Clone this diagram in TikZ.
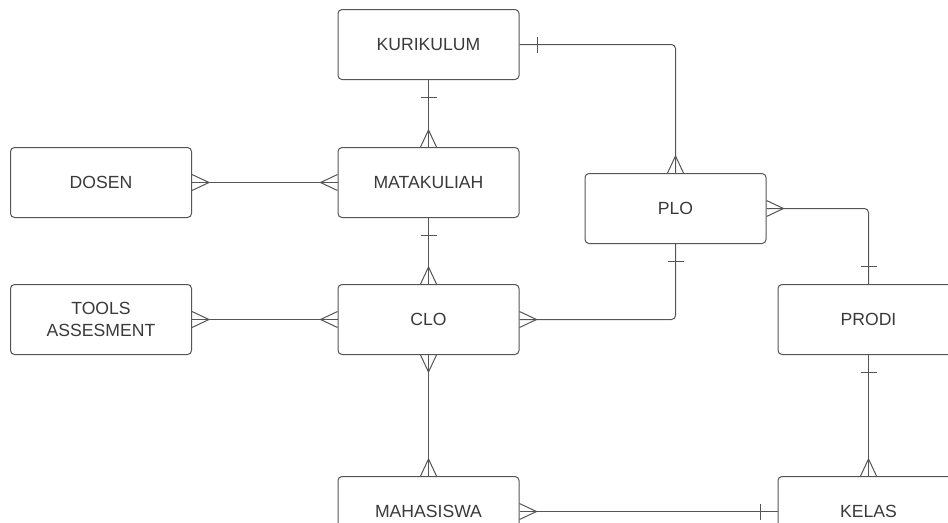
\documentclass[tikz,border=0pt]{standalone}
\usepackage{fontspec}
\setmainfont{Liberation Sans}
\begin{document}
\begin{tikzpicture}[x=0.75pt,y=-0.75pt]
\definecolor{linegray}{HTML}{555555}
\definecolor{textgray}{HTML}{3A3A3A}
\tikzset{
  entity/.style={draw=linegray, line width=0.75pt, rounded corners=3pt, fill=white,
    minimum width=135.75pt, minimum height=52.5pt, inner sep=0pt,
    text=textgray, font=\fontsize{13.2}{16.5}\selectfont, align=center},
  conn/.style={draw=linegray, line width=0.75pt},
  elbow/.style={conn, rounded corners=3pt},
  pics/manyend/.style={code={\draw[conn] (0,8) -- (17,0) -- (0,-8);}},
  pics/oneend/.style={code={\draw[conn] (17.5,8) -- (17.5,-8);}}
}
\clip (0,0) rectangle (948,522);
\fill[white] (0,0) rectangle (948,522);

\node[entity] (kur) at (428.5,44.5) {KURIKULUM};
\node[entity] (mk) at (428.5,182.5) {MATAKULIAH};
\node[entity] (dosen) at (101,182.5) {DOSEN};
\node[entity] (plo) at (675.5,208.5) {PLO};
\node[entity] (tools) at (101,319.5) {TOOLS\\ASSESMENT};
\node[entity] (clo) at (428.5,319.5) {CLO};
\node[entity] (prodi) at (868.5,319.5) {PRODI};
\node[entity] (mhs) at (428.5,511.5) {MAHASISWA};
\node[entity] (kelas) at (868.5,511.5) {KELAS};

% KURIKULUM - MATAKULIAH
\draw[conn] (kur.south) -- (mk.north);
\pic[rotate=-90] at (kur.south) {oneend};
\pic[rotate=90] at (mk.north) {manyend};
% KURIKULUM - PLO
\draw[elbow] (kur.east) -| (plo.north);
\pic[rotate=0] at (kur.east) {oneend};
\pic[rotate=90] at (plo.north) {manyend};
% DOSEN - MATAKULIAH
\draw[conn] (dosen.east) -- (mk.west);
\pic[rotate=0] at (dosen.east) {manyend};
\pic[rotate=180] at (mk.west) {manyend};
% MATAKULIAH - CLO
\draw[conn] (mk.south) -- (clo.north);
\pic[rotate=-90] at (mk.south) {oneend};
\pic[rotate=90] at (clo.north) {manyend};
% TOOLS - CLO
\draw[conn] (tools.east) -- (clo.west);
\pic[rotate=0] at (tools.east) {manyend};
\pic[rotate=180] at (clo.west) {manyend};
% CLO - PLO
\draw[elbow] (clo.east) -| (plo.south);
\pic[rotate=0] at (clo.east) {manyend};
\pic[rotate=-90] at (plo.south) {oneend};
% PLO - PRODI
\draw[elbow] (plo.east) -| (prodi.north);
\pic[rotate=0] at (plo.east) {manyend};
\pic[rotate=90] at (prodi.north) {oneend};
% CLO - MAHASISWA
\draw[conn] (clo.south) -- (mhs.north);
\pic[rotate=-90] at (clo.south) {manyend};
\pic[rotate=90] at (mhs.north) {manyend};
% PRODI - KELAS
\draw[conn] (prodi.south) -- (kelas.north);
\pic[rotate=-90] at (prodi.south) {oneend};
\pic[rotate=90] at (kelas.north) {manyend};
% MAHASISWA - KELAS
\draw[conn] (mhs.east) -- (kelas.west);
\pic[rotate=0] at (mhs.east) {manyend};
\pic[rotate=180] at (kelas.west) {oneend};
\end{tikzpicture}
\end{document}
